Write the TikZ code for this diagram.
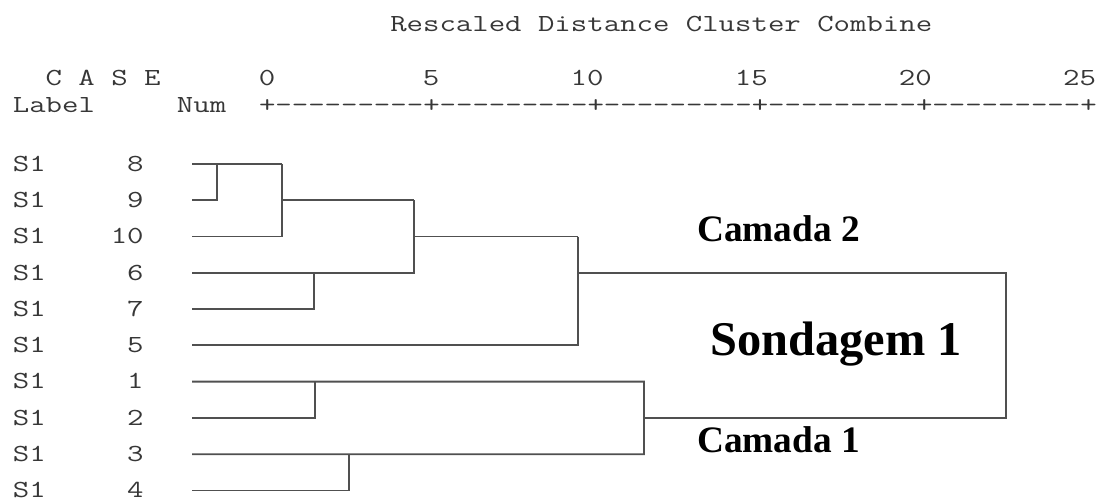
\documentclass[tikz,border=0pt]{standalone}
\usepackage{fontspec}
\newfontfamily\cour{Latin Modern Mono}[FakeStretch=1.30]
\newfontfamily\tnr{Liberation Serif}
\definecolor{ln}{RGB}{80,80,80}
\definecolor{tx}{RGB}{55,55,55}
\newcommand\dendhy{-\kern0pt}
\newcommand\dendseg{\dendhy\dendhy\dendhy\dendhy\dendhy\dendhy\dendhy\dendhy\dendhy+}
\begin{document}
\begin{tikzpicture}[x=0.75pt,y=-0.75pt,
  mono/.style={font=\cour\fontsize{18.4}{20}\selectfont, text=tx, inner sep=0pt, anchor=base west},
  monoc/.style={mono, anchor=base},
  lab/.style={font=\tnr\bfseries\fontsize{28}{30}\selectfont, text=black, inner sep=0pt, anchor=base west},
  big/.style={font=\tnr\bfseries\fontsize{36.3}{40}\selectfont, text=black, inner sep=0pt, anchor=base west},
  dl/.style={draw=ln, line width=1.35pt}]
\useasboundingbox (0,0) rectangle (1099,497);
% header
\node[mono] (title) at (390,31.7) {Rescaled Distance Cluster Combine};
\node[mono] (case) at (45.4,85) {C A S E};
\node[monoc] (t0) at (267,85) {0};
\node[monoc] (t5) at (431.2,85) {5};
\node[monoc] (t10) at (587,85) {10};
\node[monoc] (t15) at (751.3,85) {15};
\node[monoc] (t20) at (915.4,85) {20};
\node[monoc] (t25) at (1079.5,85) {25};
\node[mono] (label) at (12.6,112.7) {Label};
\node[mono] (num) at (176.7,112.7) {Num};
\node[mono] (axis) at (258.75,112.7) {+\dendseg\dendseg\dendseg\dendseg\dendseg};
% rows
\foreach \n/\i in {8/0,9/1,10/2,6/3,7/4,5/5,1/6,2/7,3/8,4/9}{
  \node[mono] (s\n) at (12.6,{164+36.27*\i+7.2}) {S1};
  \node[mono,anchor=base east] (n\n) at (143.9,{164+36.27*\i+7.2}) {\n};
  \coordinate (L\n) at (192,{164+36.27*\i});
}
% join points
\coordinate (A)  at (216.7,164);
\coordinate (Bt) at (282,164);
\coordinate (Bo) at (282,200.27);
\coordinate (Dt) at (414,200.27);
\coordinate (Ct) at (314,272.81);
\coordinate (Do) at (414,236.54);
\coordinate (Et) at (577.7,236.54);
\coordinate (Eo) at (577.7,272.81);
\coordinate (Rb) at (1006,417.89);
\coordinate (Ho) at (644,417.89);
\coordinate (Ht) at (644,381.62);
\coordinate (F)  at (314.7,381.62);
\coordinate (G)  at (348.7,454.16);
% dendrogram
\draw[dl] (L9) -| (A);
\draw[dl] (L8) -- (Bt);
\draw[dl] (L10) -| (Bt);
\draw[dl] (Bo) -- (Dt);
\draw[dl] (L7) -| (Ct);
\draw[dl] (Dt) |- (L6);
\draw[dl] (Do) -- (Et);
\draw[dl] (Et) |- (L5);
\draw[dl] (Eo) -| (Rb) -- (Ho);
\draw[dl] (L1) -- (Ht) |- (L3);
\draw[dl] (L2) -| (F);
\draw[dl] (L4) -| (G);
% annotations
\node[lab] (c2) at (697,241.7) {Camada 2};
\node[big] (sd) at (710,355) {Sondagem 1};
\node[lab] (c1) at (697,452.3) {Camada 1};
\end{tikzpicture}
\end{document}
